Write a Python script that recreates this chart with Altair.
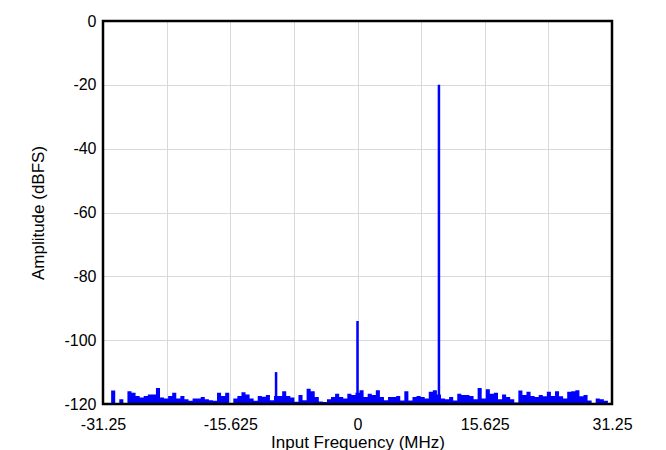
import altair as alt
import pandas as pd

# Noise-floor bins (MHz) and amplitudes (dBFS)
noise_freq = [
    -31, -30.5, -30, -29.5, -29, -28.5, -28, -27.5, -27, -26.5,
    -26, -25.5, -25, -24.5, -24, -23.5, -23, -22.5, -22, -21.5,
    -21, -20.5, -20, -19.5, -19, -18.5, -18, -17.5, -17, -16.5,
    -16, -15.5, -15, -14.5, -14, -13.5, -13, -12.5, -12, -11.5,
    -11, -10.5, -10, -9.5, -9, -8.5, -8, -7.5, -7, -6.5,
    -6, -5.5, -5, -4.5, -4, -3.5, -3, -2.5, -2, -1.5,
    -1, -0.5, 0, 0.5, 1, 1.5, 2, 2.5, 3, 3.5,
    4, 4.5, 5, 5.5, 6, 6.5, 7, 7.5, 8, 8.5,
    9, 9.5, 10, 10.5, 11, 11.5, 12, 12.5, 13, 13.5,
    14, 14.5, 15, 15.5, 16, 16.5, 17, 17.5, 18, 18.5,
    19, 19.5, 20, 20.5, 21, 21.5, 22, 22.5, 23, 23.5,
    24, 24.5, 25, 25.5, 26, 26.5, 27, 27.5, 28, 28.5,
    29, 29.5, 30, 30.5, 31,
]
noise_amp = [
    -119.7, -120, -115.8, -119.8, -118.5, -120, -116, -116.5, -117.5, -118,
    -117.5, -117, -117, -115, -118, -118.3, -117.5, -116.5, -118.3, -117.5,
    -118.5, -119, -118.3, -118.3, -117.8, -118.5, -118.8, -119, -116.5, -117.5,
    -116.5, -120, -118.3, -117.5, -116.3, -117, -118.3, -119, -117.5, -117.7,
    -117.2, -118.8, -117.5, -117.5, -116, -117.5, -118, -119.3, -117.2, -118.8,
    -115.2, -116, -117.8, -119.2, -119.4, -118.5, -117.8, -116.8, -117.8, -118.3,
    -116.8, -117.2, -116.5, -115.7, -117.8, -116.8, -117.2, -115.7, -117.8, -118.8,
    -117.8, -117.8, -117.5, -118.9, -116, -118.9, -117.8, -117.5, -117.8, -118.3,
    -116.2, -115.7, -117, -118.3, -118.5, -117.8, -118.9, -116.8, -117.2, -117.2,
    -117.5, -118.5, -115, -118.3, -115.4, -116.8, -116.5, -118.5, -117, -117.8,
    -118.5, -119.5, -115.8, -117.2, -116.2, -117.5, -117.8, -117.2, -117.6, -116.2,
    -117.5, -116, -117.6, -118.3, -116.2, -116, -115.7, -117.6, -117.2, -118.9,
    -119.8, -118.3, -118.5, -119, -120,
]

# Spurs / tone
spike_freq = [-10, 0, 10]
spike_amp = [-110, -94, -20]

# Axis ticks
x_grid = [-31.25, -23.4375, -15.625, -7.8125, 0, 7.8125, 15.625, 23.4375, 31.25]
y_grid = [-120, -110, -100, -90, -80, -70, -60, -50, -40, -30, -20, -10, 0]

X_MIN, X_MAX = -31.25, 31.25
Y_MIN, Y_MAX = -120, 0

FONT = "Liberation Sans"
BLUE = "#0000FF"

noise_df = pd.DataFrame({"f": noise_freq, "a": noise_amp})
spike_df = pd.DataFrame({"f": spike_freq, "a": spike_amp})

x_scale = alt.Scale(domain=[X_MIN, X_MAX], nice=False, zero=False)
y_scale = alt.Scale(domain=[Y_MIN, Y_MAX], nice=False, zero=False)

x_axis = alt.Axis(
    title="Input Frequency (MHz)",
    values=x_grid,
    labelExpr="abs(datum.value) % 15.625 == 0 ? '' + datum.value : ''",
    labelOverlap=False,
    labelFlush=False,
    labelBound=False,
    ticks=False,
    domain=False,
    labelPadding=12,
    titlePadding=2,
)
y_axis = alt.Axis(
    title="Amplitude (dBFS)",
    values=y_grid,
    labelExpr="datum.value % 20 == 0 ? '' + datum.value : ''",
    labelOverlap=False,
    labelFlush=False,
    labelBound=False,
    ticks=False,
    domain=False,
    labelPadding=7,
    titlePadding=16,
)

noise = alt.Chart(noise_df).mark_area(
    interpolate="step", color=BLUE, opacity=1, clip=True
).encode(
    x=alt.X("f:Q", scale=x_scale, axis=x_axis),
    y=alt.Y("a:Q", scale=y_scale, axis=y_axis),
    y2=alt.datum(Y_MIN),
)

spikes = alt.Chart(spike_df).mark_rule(color=BLUE, strokeWidth=2.5).encode(
    x=alt.X("f:Q", scale=x_scale),
    y=alt.Y("a:Q", scale=y_scale),
    y2=alt.datum(Y_MIN),
)

frame = alt.Chart(pd.DataFrame({"k": [0]})).mark_rect(
    fill=None, fillOpacity=0, stroke="black", strokeWidth=2.5
).encode(
    x=alt.datum(X_MIN, scale=x_scale),
    x2=alt.datum(X_MAX),
    y=alt.datum(Y_MIN, scale=y_scale),
    y2=alt.datum(Y_MAX),
)

chart = (
    alt.layer(noise, spikes, frame)
    .properties(
        width=509,
        height=383,
        autosize=alt.AutoSizeParams(type="none"),
        padding={"left": 95, "top": 13, "right": 40, "bottom": 52},
        background="white",
    )
    .configure_view(stroke=None)
    .configure_axis(
        grid=True,
        gridColor="#d9d9d9",
        gridWidth=1,
        labelFont=FONT,
        labelFontSize=16,
        labelColor="black",
        titleFont=FONT,
        titleFontSize=17,
        titleFontWeight="normal",
        titleColor="black",
    )
)

chart.save("out.html", embed_options={"renderer": "svg", "actions": False})
